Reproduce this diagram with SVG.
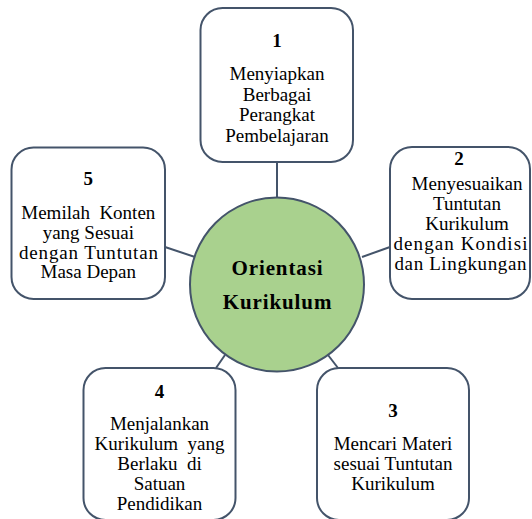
<svg xmlns="http://www.w3.org/2000/svg" width="532" height="519" viewBox="0 0 532 519">
<style>
.box{fill:#ffffff;stroke:#44546a;stroke-width:2}
.hub{fill:#a9d18e;stroke:#44546a;stroke-width:2}
.conn line{stroke:#44546a;stroke-width:2}
text{font-family:'Liberation Serif','Times New Roman',serif;fill:#000000;text-anchor:middle}
.num{font-size:19px;font-weight:bold}
.t{font-size:19px}
.hubt{font-size:21px;font-weight:bold;letter-spacing:0.9px}
</style>
<rect width="532" height="519" fill="#ffffff"/>
<g id="connectors" class="conn">
<line x1="277" y1="162" x2="277" y2="198"/>
<line x1="165" y1="247" x2="195" y2="257"/>
<line x1="362" y1="257" x2="390" y2="247"/>
<line x1="225" y1="355" x2="216" y2="368"/>
<line x1="328" y1="355" x2="338" y2="368"/>
</g>
<g id="hub">
<circle class="hub" cx="277" cy="284.5" r="87"/>
<text class="hubt" x="277.5" y="275">Orientasi</text>
<text class="hubt" x="277.5" y="309">Kurikulum</text>
</g>
<g id="node1">
<rect class="box" x="200.5" y="8" width="152.5" height="154" rx="22"/>
<text class="num" x="277" y="47">1</text>
<text class="t" x="277" y="80">Menyiapkan</text>
<text class="t" x="277" y="100.5">Berbagai</text>
<text class="t" x="277" y="121">Perangkat</text>
<text class="t" x="277" y="141.5">Pembelajaran</text>
</g>
<g id="node2">
<rect class="box" x="390" y="147" width="140" height="152" rx="22"/>
<text class="num" x="459" y="165">2</text>
<text class="t" x="467" y="190">Menyesuaikan</text>
<text class="t" x="467" y="210">Tuntutan</text>
<text class="t" x="467" y="230">Kurikulum</text>
<text class="t" x="460.5" y="250" textLength="134" lengthAdjust="spacing">dengan Kondisi</text>
<text class="t" x="460.5" y="270" textLength="132" lengthAdjust="spacing">dan Lingkungan</text>
</g>
<g id="node3">
<rect class="box" x="317" y="368" width="152" height="152" rx="22"/>
<text class="num" x="393" y="416.5">3</text>
<text class="t" x="393" y="450">Mencari Materi</text>
<text class="t" x="393" y="470">sesuai Tuntutan</text>
<text class="t" x="393" y="490">Kurikulum</text>
</g>
<g id="node4">
<rect class="box" x="83.5" y="368" width="152" height="152" rx="22"/>
<text class="num" x="159.5" y="398">4</text>
<text class="t" x="159.5" y="430">Menjalankan</text>
<text class="t" x="159.5" y="450" xml:space="preserve">Kurikulum  yang</text>
<text class="t" x="159.5" y="470" xml:space="preserve">Berlaku  di</text>
<text class="t" x="159.5" y="490">Satuan</text>
<text class="t" x="159.5" y="510">Pendidikan</text>
</g>
<g id="node5">
<rect class="box" x="11.5" y="147.5" width="153.5" height="151.5" rx="22"/>
<text class="num" x="88.3" y="185">5</text>
<text class="t" x="88.3" y="219" xml:space="preserve">Memilah  Konten</text>
<text class="t" x="88.3" y="238.5">yang Sesuai</text>
<text class="t" x="88.5" y="258.5" textLength="139" lengthAdjust="spacing">dengan Tuntutan</text>
<text class="t" x="88.3" y="278">Masa Depan</text>
</g>
</svg>
